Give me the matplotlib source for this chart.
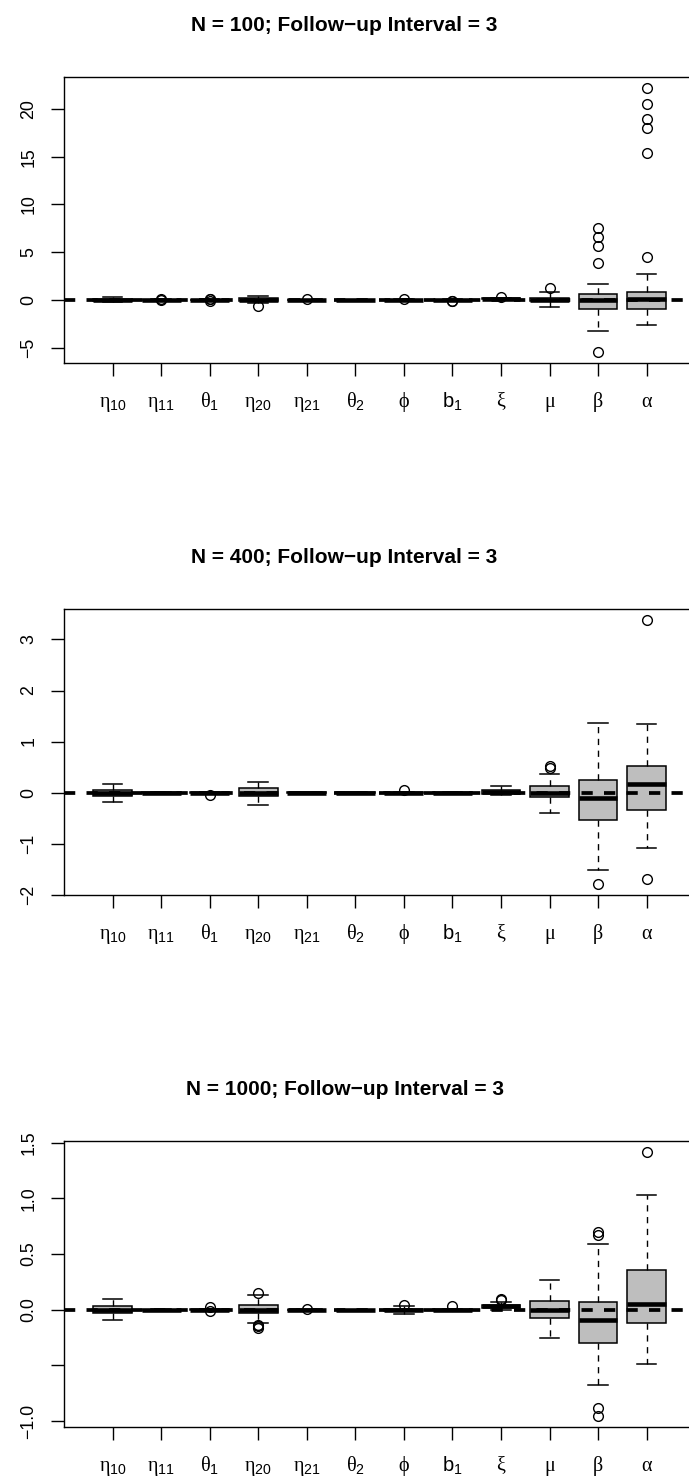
import matplotlib
matplotlib.use('Agg')
import matplotlib.pyplot as plt

plt.rcParams['font.family'] = ['Liberation Sans', 'DejaVu Sans']
plt.rcParams['mathtext.fontset'] = 'custom'
plt.rcParams['mathtext.rm'] = 'Liberation Sans'
plt.rcParams['mathtext.it'] = 'Liberation Serif'
plt.rcParams['mathtext.bf'] = 'Liberation Sans:bold'

# ---------------- data ----------------
param_labels = [r'$\eta_{10}$', r'$\eta_{11}$', r'$\theta_{1}$', r'$\eta_{20}$',
                r'$\eta_{21}$', r'$\theta_{2}$', r'$\phi$', r'$\mathrm{b}_{1}$',
                r'$\xi$', r'$\mu$', r'$\beta$', r'$\alpha$']

titles = ['N = 100; Follow\u2212up Interval = 3',
          'N = 400; Follow\u2212up Interval = 3',
          'N = 1000; Follow\u2212up Interval = 3']

# N = 100
n100_whislo = [-0.25, -0.04, -0.05, -0.30, -0.03, -0.01, -0.05, -0.05, 0.00, -0.78, -3.25, -2.65]
n100_q1     = [-0.10, -0.02, -0.02, -0.12, -0.01, -0.005, -0.02, -0.02, 0.05, -0.15, -0.94, -0.94]
n100_med    = [0.00, 0.00, 0.00, 0.02, 0.00, 0.00, 0.00, 0.00, 0.10, 0.02, -0.05, 0.10]
n100_q3     = [0.10, 0.02, 0.02, 0.15, 0.01, 0.005, 0.02, 0.02, 0.15, 0.20, 0.63, 0.77]
n100_whishi = [0.25, 0.04, 0.05, 0.45, 0.03, 0.01, 0.05, 0.05, 0.20, 0.78, 1.70, 2.70]
n100_fliers = [[], [0.08, -0.06], [0.10, -0.08, 0.05], [-0.60], [0.05], [], [0.12],
               [-0.10, -0.15], [0.32], [1.20],
               [-5.51, 3.90, 5.68, 6.62, 7.53],
               [4.50, 15.40, 18.06, 19.00, 20.57, 22.25]]

# N = 400
n400_whislo = [-0.18, -0.01, -0.015, -0.24, -0.005, -0.004, -0.02, -0.01, -0.05, -0.41, -1.52, -1.09]
n400_q1     = [-0.06, -0.004, -0.005, -0.06, -0.002, -0.002, -0.01, -0.004, -0.02, -0.09, -0.53, -0.35]
n400_med    = [0.00, 0.00, 0.00, 0.00, 0.00, 0.00, 0.00, 0.00, 0.02, 0.00, -0.11, 0.16]
n400_q3     = [0.06, 0.004, 0.005, 0.08, 0.002, 0.002, 0.01, 0.004, 0.06, 0.13, 0.24, 0.52]
n400_whishi = [0.17, 0.01, 0.015, 0.20, 0.005, 0.004, 0.02, 0.01, 0.12, 0.36, 1.36, 1.34]
n400_fliers = [[], [], [-0.04], [], [], [], [0.06], [], [], [0.49, 0.52],
               [-1.80], [3.39, -1.69]]

# N = 1000
n1000_whislo = [-0.09, -0.003, -0.01, -0.12, -0.003, -0.002, -0.035, -0.01, 0.00, -0.25, -0.68, -0.49]
n1000_q1     = [-0.03, -0.001, -0.004, -0.03, -0.001, -0.001, -0.01, -0.004, 0.015, -0.07, -0.30, -0.12]
n1000_med    = [0.00, 0.00, 0.00, 0.00, 0.00, 0.00, 0.00, 0.00, 0.03, 0.00, -0.09, 0.05]
n1000_q3     = [0.03, 0.001, 0.004, 0.04, 0.001, 0.001, 0.01, 0.004, 0.045, 0.08, 0.065, 0.36]
n1000_whishi = [0.10, 0.003, 0.01, 0.13, 0.003, 0.002, 0.03, 0.01, 0.07, 0.27, 0.59, 1.03]
n1000_fliers = [[], [], [0.02, -0.01], [0.15, -0.14, -0.15, -0.16], [0.005], [], [0.045],
                [0.03], [0.09, 0.10], [], [0.70, 0.67, -0.886, -0.958], [1.42]]

yticks_100 = [-5, 0, 5, 10, 15, 20]
yticklabels_100 = ['\u22125', '0', '5', '10', '15', '20']
yticks_400 = [-2, -1, 0, 1, 2, 3]
yticklabels_400 = ['\u22122', '\u22121', '0', '1', '2', '3']
yticks_1000 = [-1.0, -0.5, 0.0, 0.5, 1.0, 1.5]
yticklabels_1000 = ['\u22121.0', '', '0.0', '0.5', '1.0', '1.5']

panels = [
    (n100_whislo, n100_q1, n100_med, n100_q3, n100_whishi, n100_fliers, yticks_100, yticklabels_100),
    (n400_whislo, n400_q1, n400_med, n400_q3, n400_whishi, n400_fliers, yticks_400, yticklabels_400),
    (n1000_whislo, n1000_q1, n1000_med, n1000_q3, n1000_whishi, n1000_fliers, yticks_1000, yticklabels_1000),
]

# ---------------- figure ----------------
W, H = 689, 1477
fig = plt.figure(figsize=(W / 100, H / 100), dpi=100)

ax_left_px = 64
ax_h_px = 286
tops_px = [77, 609, 1141]
title_base_px = [30.7, 562.7, 1094.7]
unit_px = 48.55
n = len(param_labels)

for i, (wlo, q1, med, q3, whi, fl, ytk, ytl) in enumerate(panels):
    top = tops_px[i]
    ax = fig.add_axes([ax_left_px / W, 1 - (top + ax_h_px) / H,
                       13 * unit_px / W, ax_h_px / H])
    stats = []
    for k in range(n):
        stats.append(dict(whislo=wlo[k], q1=q1[k], med=med[k], q3=q3[k],
                          whishi=whi[k], fliers=fl[k], label=''))
    ax.bxp(stats, positions=list(range(1, n + 1)), widths=0.8, capwidths=0.4,
           patch_artist=True, showfliers=True,
           boxprops=dict(facecolor='#BEBEBE', edgecolor='black', linewidth=1.1),
           medianprops=dict(color='black', linewidth=3.3, solid_capstyle='butt'),
           whiskerprops=dict(color='black', linewidth=1.0, linestyle=(0, (4.5, 4))),
           capprops=dict(color='black', linewidth=1.1),
           flierprops=dict(marker='o', markerfacecolor='none', markeredgecolor='black',
                           markersize=7, markeredgewidth=1.0, linestyle='none'))
    ax.axhline(0, color='black', linewidth=2.7, dashes=(3, 3), zorder=5)

    allvals = wlo + whi + [v for f in fl for v in f]
    lo, hi = min(allvals), max(allvals)
    r = hi - lo
    ax.set_ylim(lo - 0.04 * r, hi + 0.04 * r)
    ax.set_xlim(0, 13)

    ax.set_xticks(list(range(1, n + 1)))
    ax.set_xticklabels(param_labels, fontsize=14.5)
    for lab in ax.get_xticklabels():
        lab.set_verticalalignment('baseline')
    ax.set_yticks(ytk)
    ax.set_yticklabels(ytl, fontsize=12.8, rotation=90, va='center')
    ax.tick_params(axis='x', length=9.7, width=1.0, pad=22.3, direction='out')
    ax.tick_params(axis='y', length=9.7, width=1.0, pad=9.5, direction='out')
    for s in ax.spines.values():
        s.set_linewidth(1.0)

    fig.text(0.5, 1 - title_base_px[i] / H, titles[i], ha='center', va='baseline',
             fontsize=15, fontweight='bold')

fig.savefig('out.png', dpi=100)
